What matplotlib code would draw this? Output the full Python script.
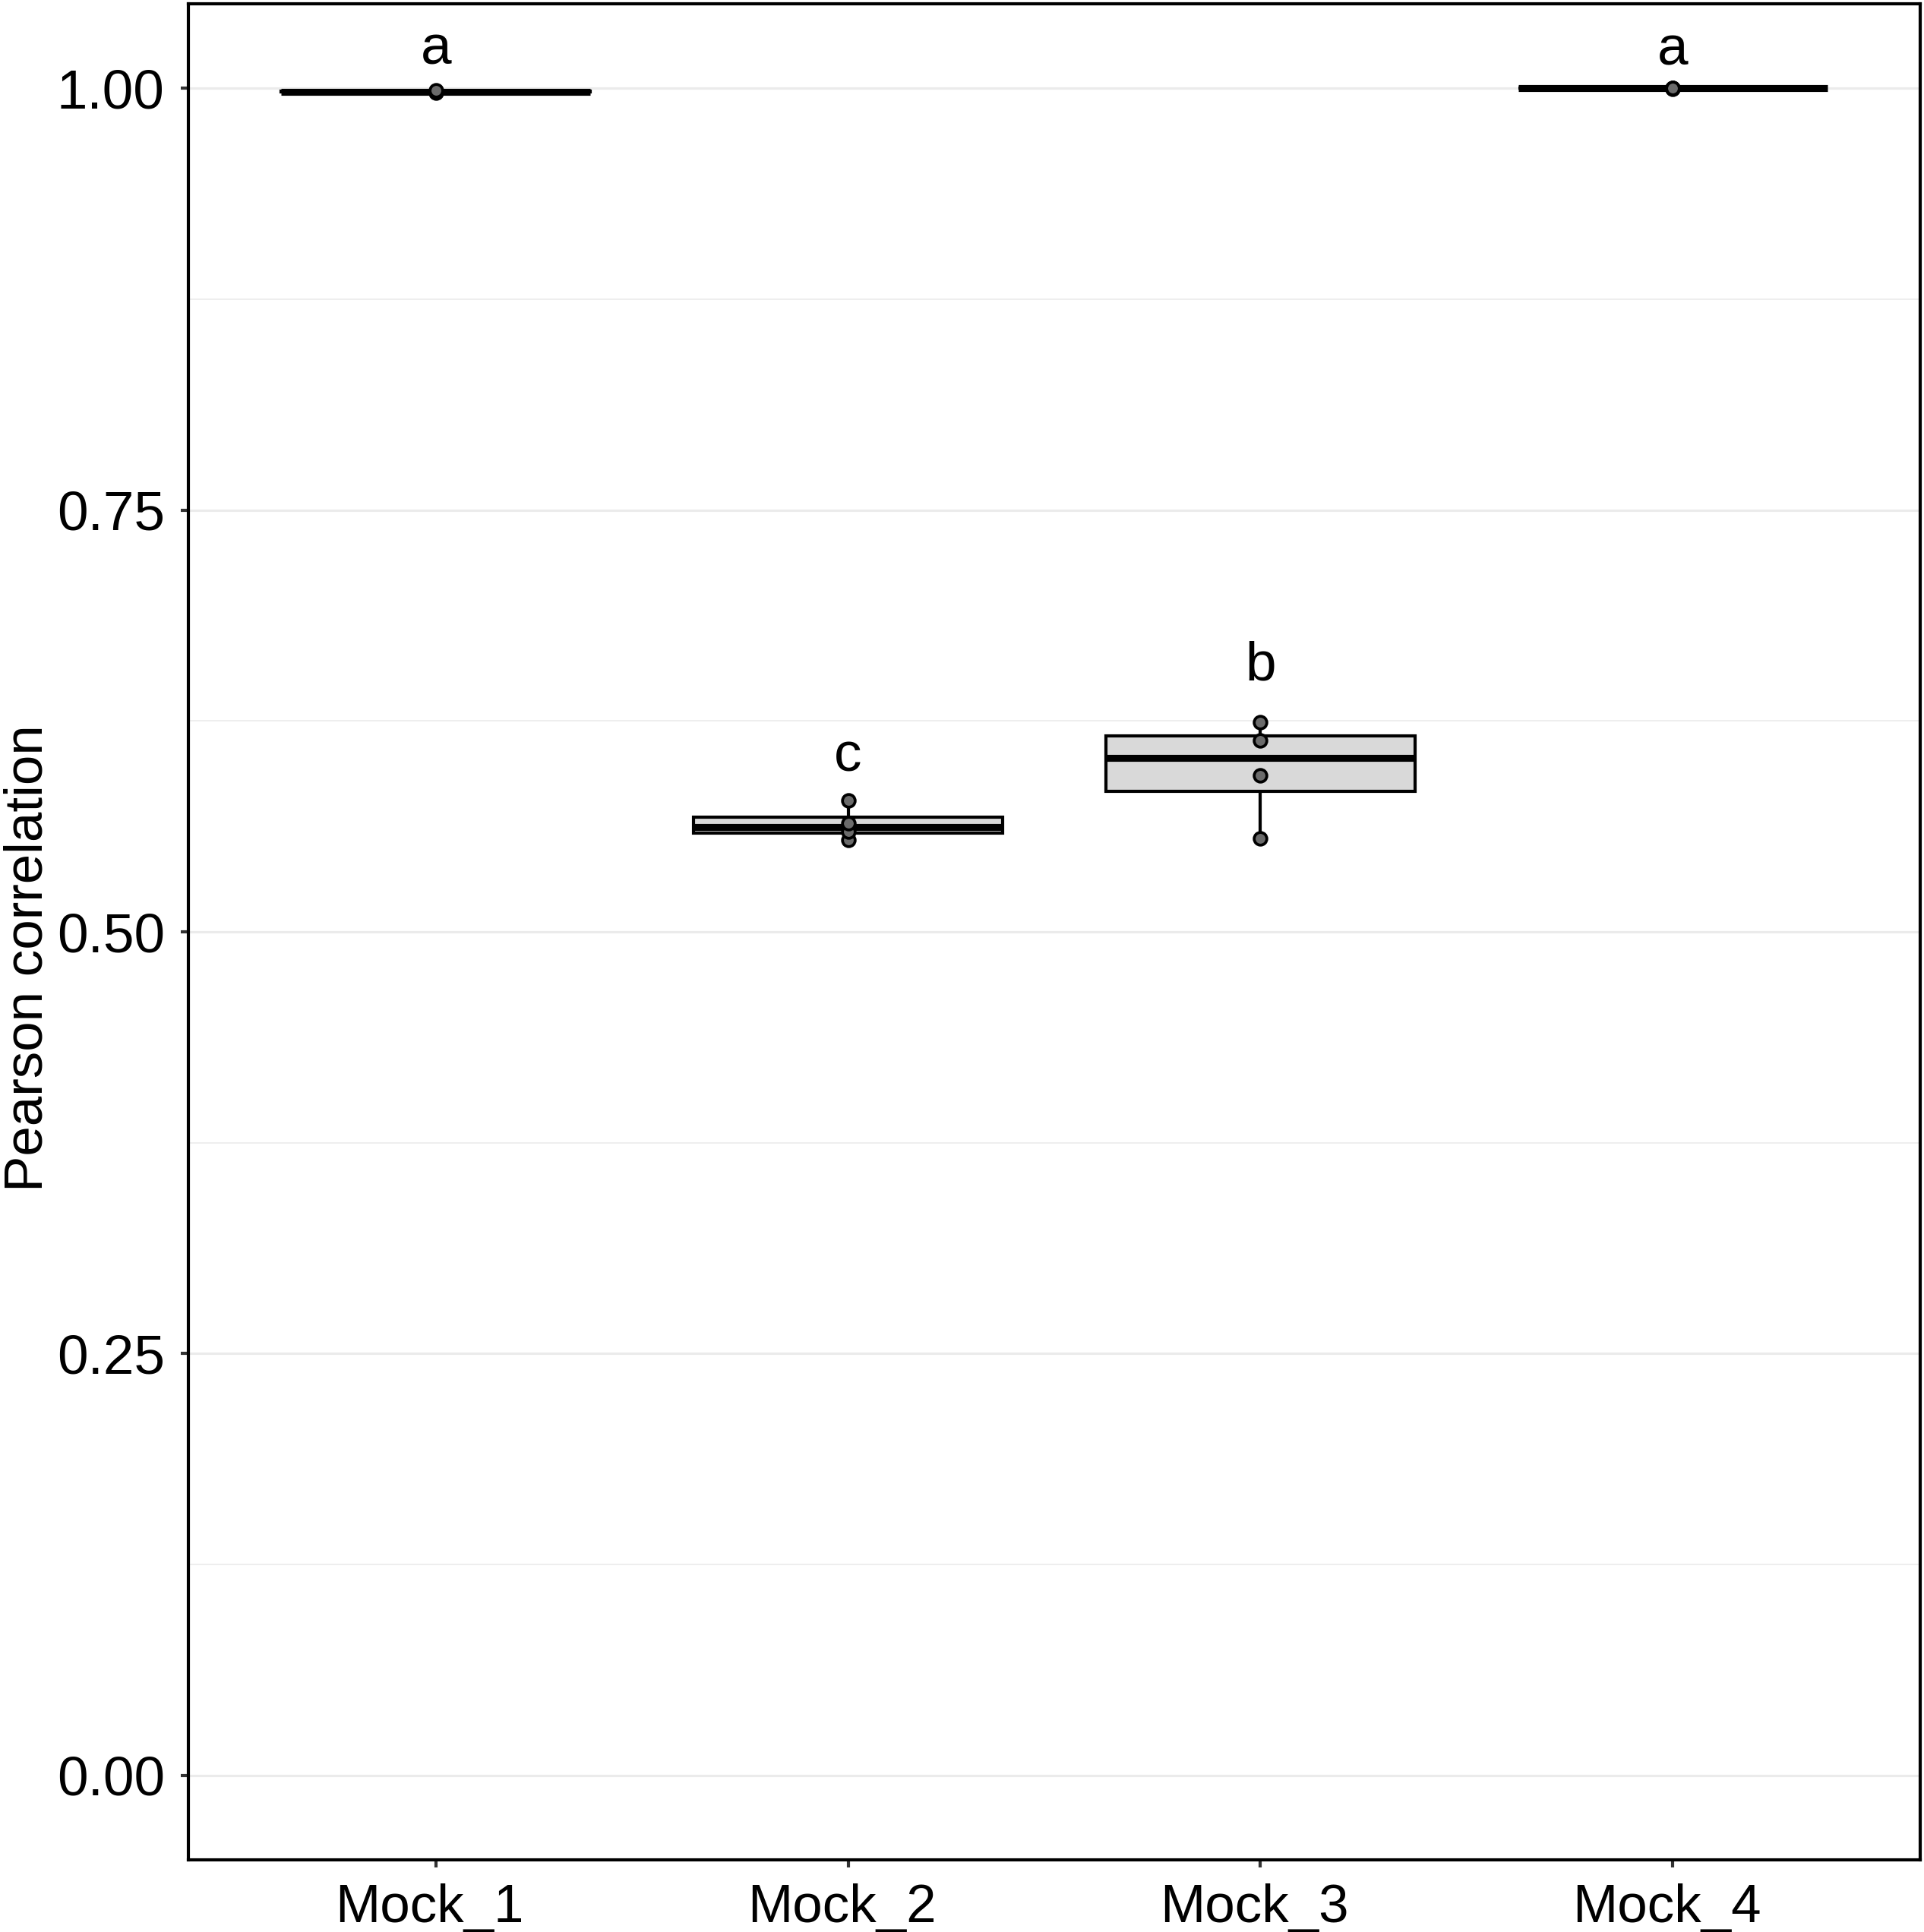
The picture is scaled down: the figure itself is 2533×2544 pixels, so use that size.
import matplotlib.pyplot as plt
import numpy as np
from matplotlib.ticker import MultipleLocator
from matplotlib.transforms import ScaledTranslation

plt.rcParams['font.family'] = ['Liberation Sans', 'DejaVu Sans']

groups = ['Mock_1', 'Mock_2', 'Mock_3', 'Mock_4']
mock_1 = [0.9975, 0.9979, 0.9981, 0.9985]
mock_2 = [0.5546, 0.5596, 0.5645, 0.5780]
mock_3 = [0.5555, 0.5928, 0.6135, 0.6243]
mock_4 = [0.9997, 0.9999, 0.9999, 1.0000]
letters = ['a', 'c', 'b', 'a']
letter_y = [1.0144, 0.595, 0.649, 1.0139]

data = [mock_1, mock_2, mock_3, mock_4]
pos = np.arange(1, len(groups) + 1)

fig = plt.figure(figsize=(2533 / 300, 2544 / 300), dpi=300)
ax = fig.add_axes([248 / 2533, 1 - 2449 / 2544, (2528 - 248) / 2533, (2449 - 5) / 2544])

bp = ax.boxplot(data, positions=pos, widths=0.75, patch_artist=True,
                showfliers=False, whis=1.5,
                boxprops=dict(facecolor='#D9D9D9', edgecolor='black', linewidth=1.0),
                medianprops=dict(color='black', linewidth=2.2),
                whiskerprops=dict(color='black', linewidth=1.0),
                capprops=dict(linewidth=0))
for b in bp['boxes']:
    b.set_zorder(3)
for m in bp['medians']:
    m.set_zorder(4)

for p, vals in zip(pos, data):
    ax.scatter(np.full(len(vals), p), vals, s=16, c='#6B6B6B',
               edgecolors='black', linewidths=0.9, zorder=5)

for p, lab, y in zip(pos, letters, letter_y):
    ax.text(p, y, lab, ha='center', va='baseline', fontsize=17.5, color='black')

ax.set_xlim(0.4, 4.6)
ax.set_ylim(-0.05, 1.05)
ax.set_xticks(pos)
ax.set_xticklabels(groups)
ax.yaxis.set_major_locator(MultipleLocator(0.25))
ax.yaxis.set_minor_locator(MultipleLocator(0.125))
ax.yaxis.set_major_formatter(plt.FuncFormatter(lambda v, _: f'{v:.2f}'))

ax.set_axisbelow(True)
ax.grid(axis='y', which='major', color='#EBEBEB', linewidth=0.75)
ax.grid(axis='y', which='minor', color='#EBEBEB', linewidth=0.4)
ax.grid(axis='x', visible=False)

ax.tick_params(which='major', direction='out', length=2.5, width=1.0,
               color='#333333', labelsize=17.5, labelcolor='black', pad=5)
ax.tick_params(axis='x', labelsize=17)
ax.tick_params(which='minor', length=0)
for s in ax.spines.values():
    s.set_color('black')
    s.set_linewidth(1.0)

# shift x labels a little left, like the reference
shift = ScaledTranslation(-2.0 / 72, 0, fig.dpi_scale_trans)
for t in ax.get_xticklabels():
    t.set_transform(t.get_transform() + shift)

ax.set_ylabel('Pearson correlation', fontsize=17)
ax.yaxis.set_label_coords(-0.078, 0.486)

fig.savefig('out.png', dpi=300)
